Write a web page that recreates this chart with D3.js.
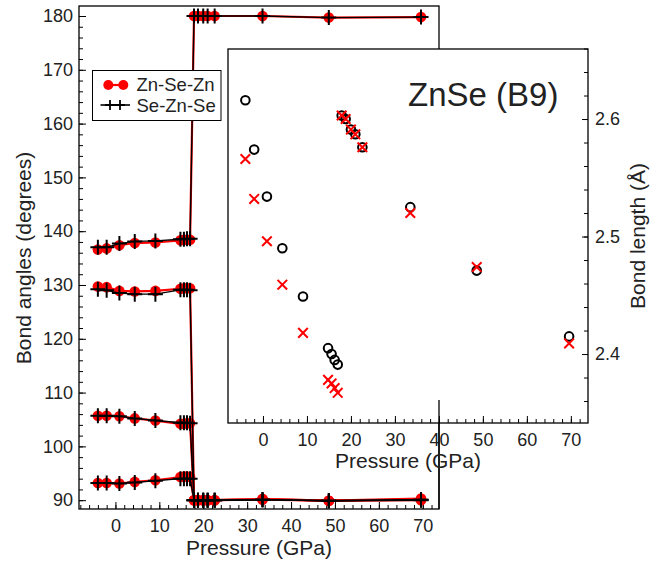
<!DOCTYPE html>
<html>
<head>
<meta charset="utf-8">
<script src="https://cdn.jsdelivr.net/npm/d3@7"></script>
<style>
  body { margin: 0; background: #fff; }
  svg { display: block; font-family: "Liberation Sans", Arial, Helvetica, sans-serif; }
  .axis text { fill: #222; font-size: 18px; }
  .axis line { stroke: #000; stroke-width: 1; }
  .title { fill: #222; font-size: 21px; }
</style>
</head>
<body>
<div id="chart"></div>
<script>
// pressures (GPa) shared by both panels
const pressure = [-4.0, -2.0, 0.9, 4.4, 9.1, 14.8, 15.6, 16.3, 17.0, 17.9, 18.8, 20.0, 21.0, 22.6, 33.5, 48.6, 69.6];

// bond angles (degrees), one array per angle branch
const znSeZn = [
    [136.6, 136.8, 137.4, 137.8, 137.9, 138.3, 138.4, 138.4, 138.4, 180.0, 180.0, 180.0, 180.0, 180.0, 180.0, 179.7, 179.8],
    [129.7, 129.6, 128.9, 128.8, 128.9, 129.3, 129.4, 129.4, 129.4, 90.0, 90.0, 90.0, 90.0, 90.0, 90.2, 89.9, 90.3],
    [105.7, 105.7, 105.6, 105.2, 104.8, 104.2, 104.2, 104.3, 104.3, 90.0, 90.0, 90.0, 90.0, 90.0, 90.1, 89.9, 90.0],
    [93.2, 93.2, 93.1, 93.4, 93.7, 94.3, 94.4, 94.4, 94.3, 90.0, 90.0, 90.0, 90.0, 90.0, 90.2, 89.9, 90.1]
];
const seZnSe = [
    [137.0, 137.0, 137.7, 138.1, 138.2, 138.5, 138.5, 138.6, 138.6, 180.0, 180.0, 180.0, 180.0, 180.0, 180.0, 179.7, 179.8],
    [129.2, 129.0, 128.5, 128.3, 128.3, 129.1, 129.1, 129.1, 129.0, 90.0, 90.0, 90.0, 90.0, 90.0, 90.1, 89.9, 90.1],
    [105.7, 105.7, 105.6, 105.2, 104.8, 104.4, 104.4, 104.4, 104.3, 90.0, 90.0, 90.0, 90.0, 90.0, 90.1, 89.9, 90.0],
    [93.2, 93.2, 93.1, 93.3, 93.6, 94.0, 94.0, 94.0, 94.0, 90.0, 90.0, 90.0, 90.0, 90.0, 90.1, 89.9, 90.1]
];

// bond lengths (Å) for the inset
const lengthA = [2.616, 2.574, 2.534, 2.490, 2.449, 2.405, 2.400, 2.395, 2.391, 2.603, 2.600, 2.591, 2.587, 2.576, 2.525, 2.471, 2.415];
const lengthB = [2.566, 2.532, 2.496, 2.459, 2.418, 2.378, 2.375, 2.371, 2.367, 2.603, 2.600, 2.591, 2.587, 2.576, 2.520, 2.474, 2.409];

const angleTicks = [90, 100, 110, 120, 130, 140, 150, 160, 170, 180];
const pressureTicks = [0, 10, 20, 30, 40, 50, 60, 70];
const lengthTicks = [2.4, 2.5, 2.6];

const width = 663, height = 563;

const svg = d3.select("#chart").append("svg")
    .attr("width", width)
    .attr("height", height);

// main panel
const x = d3.scaleLinear().domain([-8.3, 73.7]).range([79, 439]);
const y = d3.scaleLinear().domain([88.36, 181.86]).range([509, 6]);

const main = svg.append("g");

// minor ticks
main.append("g")
    .attr("class", "axis")
    .attr("transform", "translate(0,509)")
    .call(d3.axisBottom(x).tickValues(d3.range(-8, 74, 2)).tickSizeInner(-4).tickSizeOuter(0).tickFormat(""));
main.append("g")
    .attr("class", "axis")
    .attr("transform", "translate(79,0)")
    .call(d3.axisLeft(y).tickValues(d3.range(90, 182, 2)).tickSizeInner(-4).tickSizeOuter(0).tickFormat(""));

// major ticks
main.append("g")
    .attr("class", "axis")
    .attr("transform", "translate(0,509)")
    .call(d3.axisBottom(x).tickValues(pressureTicks).tickSizeInner(-7).tickSizeOuter(0).tickPadding(10));
main.append("g")
    .attr("class", "axis")
    .attr("transform", "translate(79,0)")
    .call(d3.axisLeft(y).tickValues(angleTicks).tickSizeInner(-7).tickSizeOuter(0).tickPadding(6));

main.selectAll(".domain").remove();

const angleLine = d3.line()
    .x((d, i) => x(pressure[i]))
    .y(d => y(d));

// Zn-Se-Zn: red line with filled circles
znSeZn.forEach(branch => {
    main.append("path")
        .attr("d", angleLine(branch))
        .attr("fill", "none")
        .attr("stroke", "#ff0000")
        .attr("stroke-width", 2.2);
    main.selectAll(null)
        .data(branch)
        .join("circle")
        .attr("cx", (d, i) => x(pressure[i]))
        .attr("cy", d => y(d))
        .attr("r", 5.3)
        .attr("fill", "#ff0000");
});

// Se-Zn-Se: black line with plus markers
const plus = s => `M${-s},0H${s}M0,${-s}V${s}`;
seZnSe.forEach(branch => {
    main.append("path")
        .attr("d", angleLine(branch))
        .attr("fill", "none")
        .attr("stroke", "#000")
        .attr("stroke-width", 1.4);
    main.selectAll(null)
        .data(branch)
        .join("path")
        .attr("transform", (d, i) => `translate(${x(pressure[i])},${y(d)})`)
        .attr("d", plus(7.5))
        .attr("stroke", "#000")
        .attr("stroke-width", 2);
});

// frame
main.append("rect")
    .attr("x", 79).attr("y", 6)
    .attr("width", 439 - 79).attr("height", 509 - 6)
    .attr("fill", "none")
    .attr("stroke", "#000")
    .attr("stroke-width", 1.3);

main.append("text")
    .attr("class", "title")
    .attr("x", 259).attr("y", 555)
    .attr("text-anchor", "middle")
    .text("Pressure (GPa)");
main.append("text")
    .attr("class", "title")
    .attr("transform", "translate(31,258) rotate(-90)")
    .attr("text-anchor", "middle")
    .text("Bond angles (degrees)");

// legend
const legend = main.append("g");
legend.append("rect")
    .attr("x", 92.5).attr("y", 70.5)
    .attr("width", 128.5).attr("height", 50)
    .attr("fill", "#fff")
    .attr("stroke", "#000")
    .attr("stroke-width", 1);
legend.append("line")
    .attr("x1", 104).attr("x2", 128).attr("y1", 85).attr("y2", 85)
    .attr("stroke", "#ff0000").attr("stroke-width", 2.2);
legend.selectAll(null)
    .data([108.3, 123.3])
    .join("circle")
    .attr("cx", d => d).attr("cy", 85).attr("r", 5)
    .attr("fill", "#ff0000");
legend.append("line")
    .attr("x1", 100.5).attr("x2", 130).attr("y1", 105).attr("y2", 105)
    .attr("stroke", "#000").attr("stroke-width", 1.6);
legend.selectAll(null)
    .data([110, 120])
    .join("path")
    .attr("transform", d => `translate(${d},105)`)
    .attr("d", plus(5))
    .attr("stroke", "#000").attr("stroke-width", 1.8);
legend.selectAll(null)
    .data(["Zn-Se-Zn", "Se-Zn-Se"])
    .join("text")
    .attr("x", 136.5)
    .attr("y", (d, i) => 91 + i * 21)
    .attr("fill", "#222")
    .style("font-size", "18.5px")
    .text(d => d);

// inset panel
const ix = d3.scaleLinear().domain([-7.95, 73.9]).range([228, 588]);
const iy = d3.scaleLinear().domain([2.3413, 2.6596]).range([423, 49]);

const inset = svg.append("g");

inset.append("rect")
    .attr("x", 228).attr("y", 49)
    .attr("width", 588 - 228).attr("height", 423 - 49)
    .attr("fill", "#fff");

inset.append("g")
    .attr("class", "axis")
    .attr("transform", "translate(0,423)")
    .call(d3.axisBottom(ix).tickValues(d3.range(-6, 74, 2)).tickSizeInner(-4).tickSizeOuter(0).tickFormat(""));
inset.append("g")
    .attr("class", "axis")
    .attr("transform", "translate(588,0)")
    .call(d3.axisRight(iy).tickValues(d3.range(2.36, 2.66, 0.02)).tickSizeInner(-4).tickSizeOuter(0).tickFormat(""));
inset.append("g")
    .attr("class", "axis")
    .attr("transform", "translate(0,423)")
    .call(d3.axisBottom(ix).tickValues(pressureTicks).tickSizeInner(-7).tickSizeOuter(0).tickPadding(10));
inset.append("g")
    .attr("class", "axis")
    .attr("transform", "translate(588,0)")
    .call(d3.axisRight(iy).tickValues(lengthTicks).tickSizeInner(-6).tickSizeOuter(0).tickPadding(7).tickFormat(d3.format(".1f")));
inset.selectAll(".domain").remove();

inset.selectAll(null)
    .data(lengthA)
    .join("circle")
    .attr("cx", (d, i) => ix(pressure[i]))
    .attr("cy", d => iy(d))
    .attr("r", 4.3)
    .attr("fill", "none")
    .attr("stroke", "#000")
    .attr("stroke-width", 2);

const cross = s => `M${-s},${-s}L${s},${s}M${-s},${s}L${s},${-s}`;
inset.selectAll(null)
    .data(lengthB)
    .join("path")
    .attr("transform", (d, i) => `translate(${ix(pressure[i])},${iy(d)})`)
    .attr("d", cross(4.8))
    .attr("stroke", "#ff0000")
    .attr("stroke-width", 2);

inset.append("rect")
    .attr("x", 228).attr("y", 49)
    .attr("width", 588 - 228).attr("height", 423 - 49)
    .attr("fill", "none")
    .attr("stroke", "#000")
    .attr("stroke-width", 1.3);

// right edge of the main frame shows through below the inset
inset.append("line")
    .attr("x1", 439).attr("x2", 439)
    .attr("y1", 400).attr("y2", 509)
    .attr("stroke", "#000")
    .attr("stroke-width", 1.3);

inset.append("text")
    .attr("x", 408).attr("y", 106)
    .attr("fill", "#222")
    .style("font-size", "33px")
    .text("ZnSe (B9)");

inset.append("text")
    .attr("class", "title")
    .attr("x", 408).attr("y", 468)
    .attr("text-anchor", "middle")
    .text("Pressure (GPa)");
inset.append("text")
    .attr("class", "title")
    .attr("transform", "translate(645,236) rotate(-90)")
    .attr("text-anchor", "middle")
    .text("Bond length (Å)");
</script>
</body>
</html>
